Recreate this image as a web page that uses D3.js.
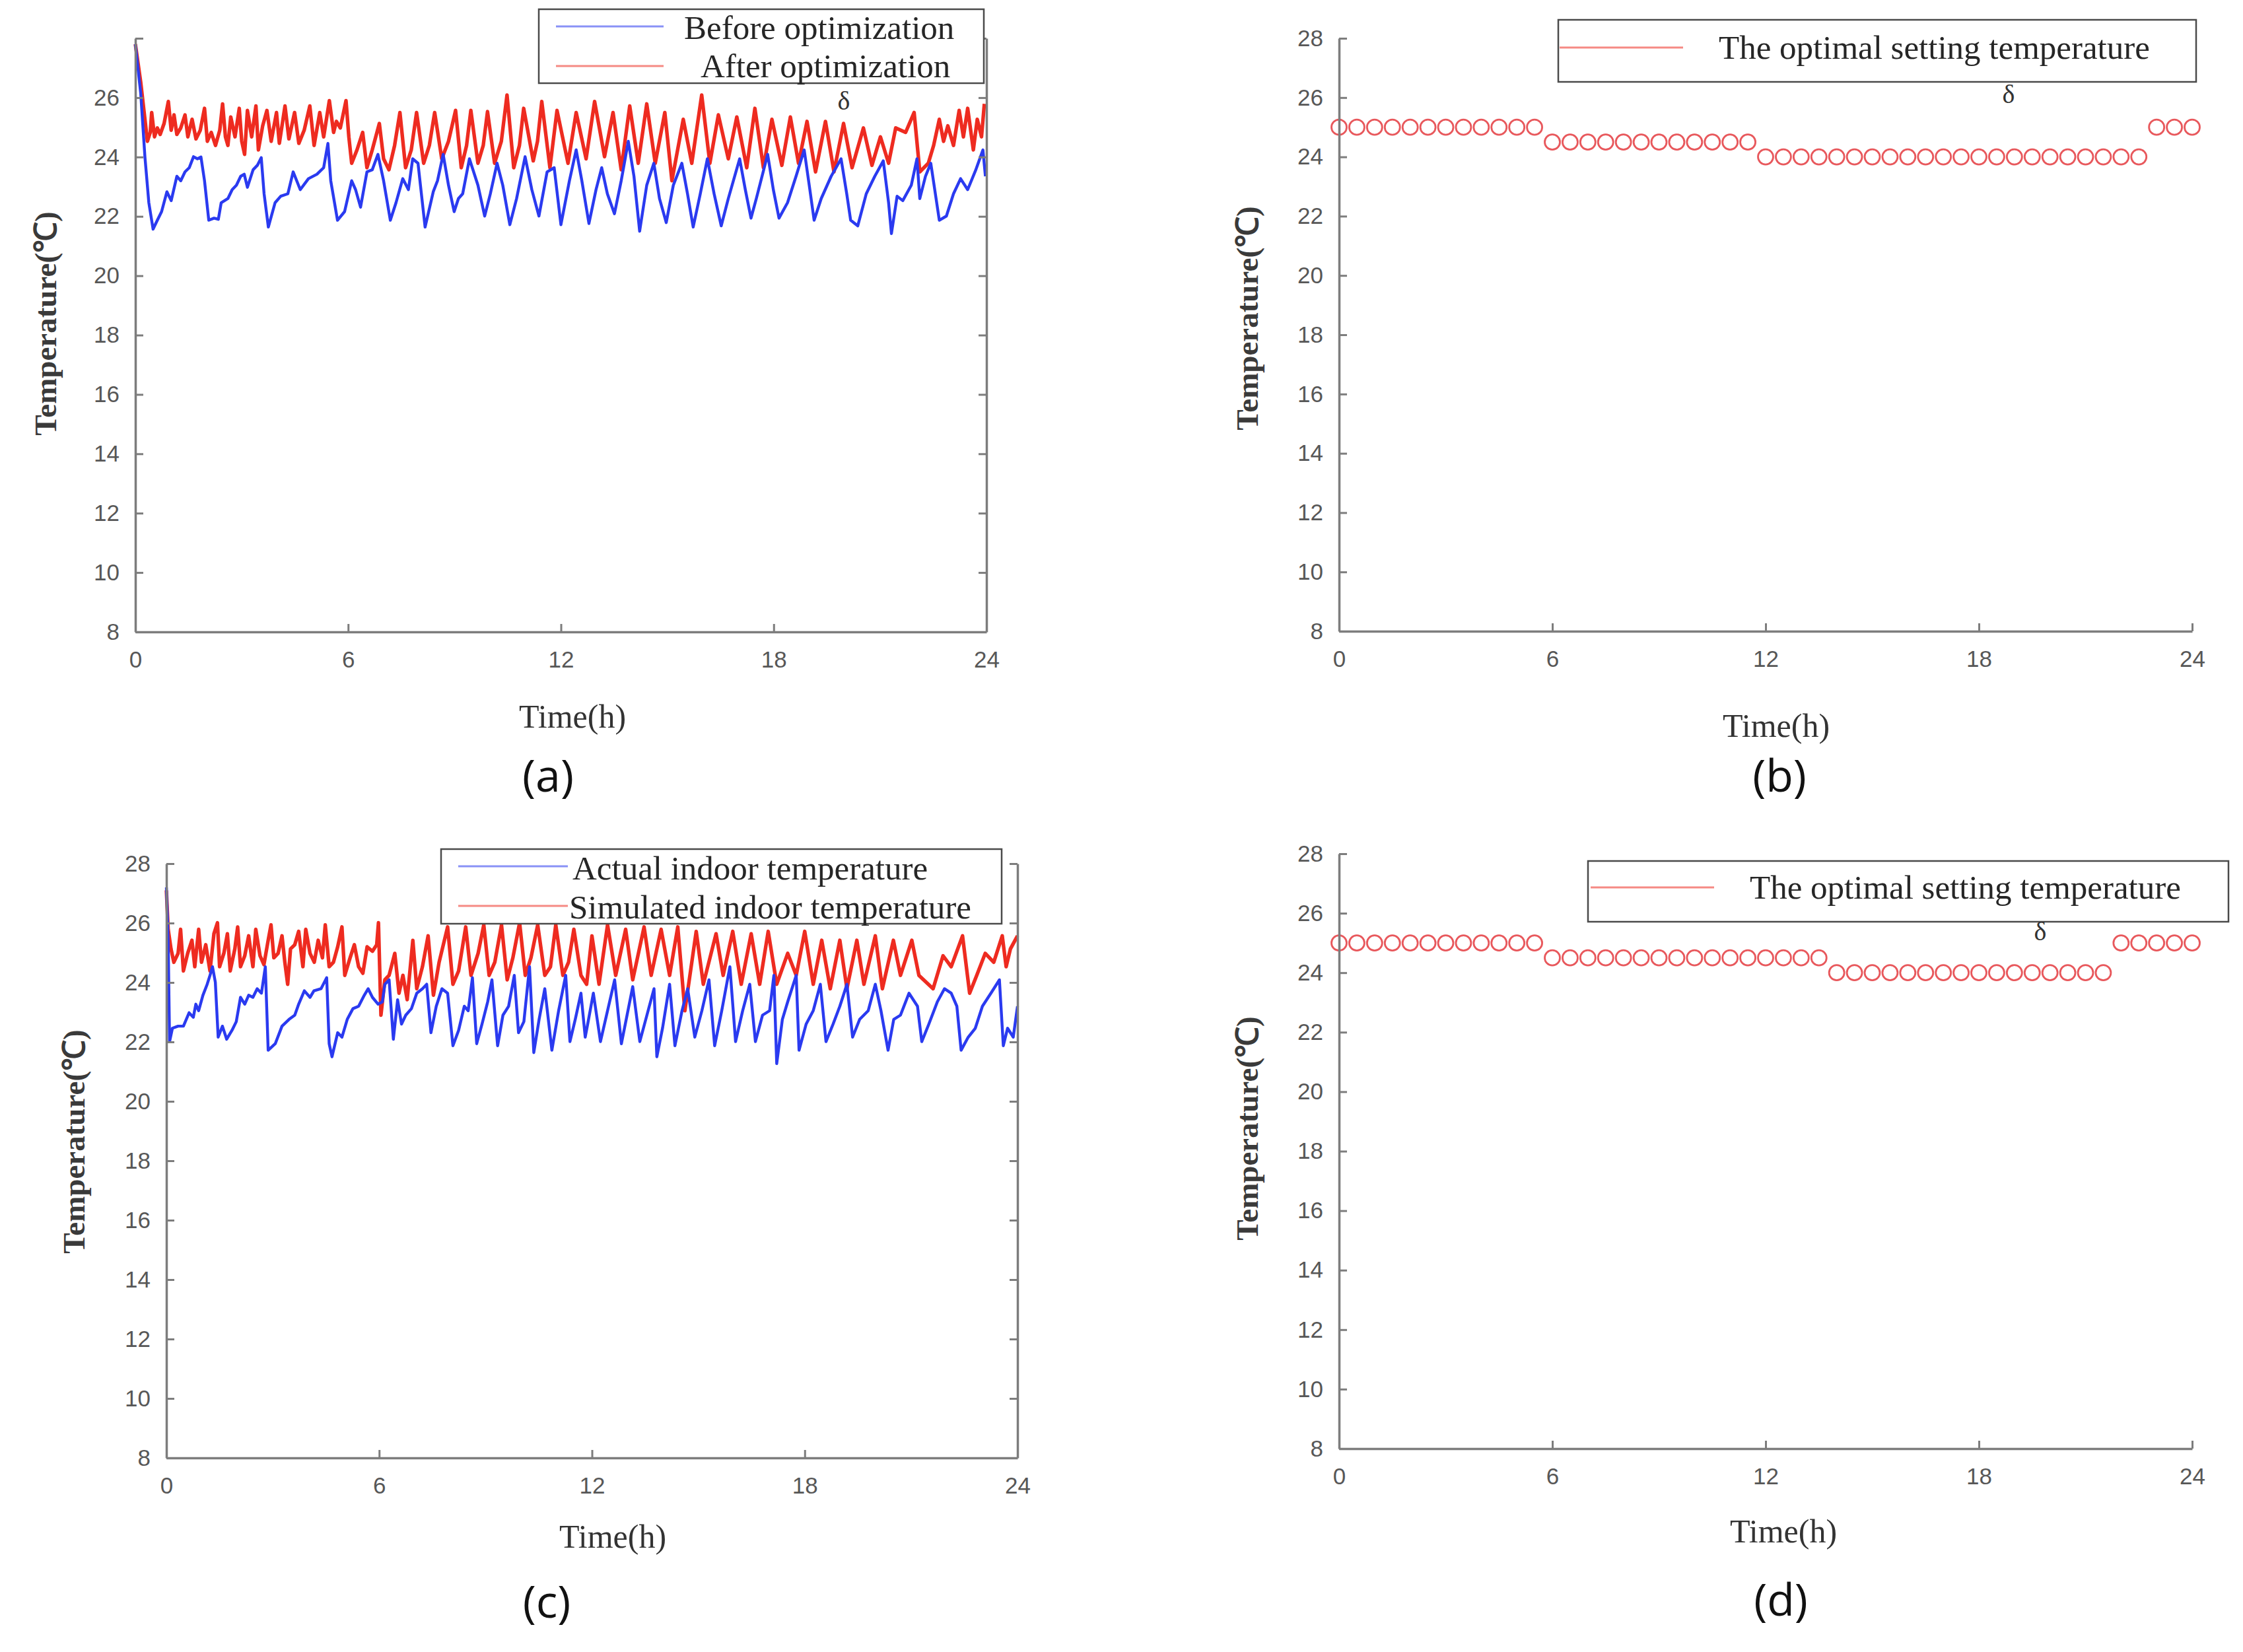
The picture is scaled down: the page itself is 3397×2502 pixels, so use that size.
<!DOCTYPE html>
<html><head><meta charset="utf-8">
<script src="https://cdn.jsdelivr.net/npm/d3@7"></script>
<style>body{margin:0;background:#fff}</style>
</head><body>
<svg id="chart" width="3397" height="2502"></svg>
<script>
// ---------------- DATA ----------------
const xTicks = [0, 6, 12, 18, 24];
const yTicks = [8, 10, 12, 14, 16, 18, 20, 22, 24, 26, 28];

// (a) [time h, temperature C]
const aBefore = [[0,27.8],[0.15,26.16],[0.27,24.0],[0.38,22.46],[0.5,21.57],[0.62,21.87],[0.74,22.16],[0.89,22.83],[1.01,22.53],[1.17,23.35],[1.28,23.2],[1.4,23.5],[1.52,23.64],[1.64,24.01],[1.75,23.94],[1.85,24.0],[1.95,23.2],[2.07,21.87],[2.22,21.94],[2.34,21.9],[2.42,22.46],[2.61,22.6],[2.73,22.9],[2.85,23.05],[2.97,23.35],[3.07,23.42],[3.16,22.98],[3.32,23.57],[3.44,23.72],[3.55,23.98],[3.63,22.76],[3.75,21.64],[3.94,22.46],[4.1,22.68],[4.3,22.76],[4.45,23.5],[4.65,22.9],[4.88,23.27],[5.12,23.42],[5.31,23.64],[5.43,24.46],[5.51,23.2],[5.7,21.87],[5.9,22.16],[6.1,23.2],[6.21,22.9],[6.35,22.31],[6.53,23.5],[6.68,23.57],[6.84,24.09],[7.0,23.2],[7.19,21.87],[7.35,22.46],[7.54,23.27],[7.7,22.9],[7.82,23.94],[7.97,23.79],[8.17,21.64],[8.4,22.83],[8.52,23.2],[8.68,24.09],[8.83,23.05],[8.99,22.16],[9.11,22.6],[9.23,22.76],[9.42,23.94],[9.66,23.05],[9.85,22.01],[10.01,22.76],[10.2,23.79],[10.36,23.05],[10.56,21.72],[10.75,22.6],[10.99,24.01],[11.18,22.9],[11.38,22.01],[11.61,23.5],[11.81,23.64],[12.0,21.72],[12.24,23.2],[12.43,24.24],[12.59,23.2],[12.79,21.76],[12.99,22.9],[13.15,23.64],[13.31,22.76],[13.51,22.09],[13.7,23.2],[13.9,24.53],[14.06,23.35],[14.22,21.5],[14.42,23.05],[14.62,23.79],[14.78,22.6],[14.97,21.79],[15.17,23.05],[15.41,23.79],[15.57,22.76],[15.73,21.64],[15.93,22.76],[16.13,23.94],[16.32,22.76],[16.52,21.68],[16.72,22.6],[17.04,23.94],[17.2,22.9],[17.36,21.94],[17.51,22.6],[17.83,24.09],[17.99,22.9],[18.15,21.94],[18.39,22.46],[18.63,23.35],[18.86,24.24],[19.02,22.9],[19.14,21.87],[19.34,22.6],[19.62,23.35],[19.9,23.94],[20.06,22.76],[20.17,21.87],[20.37,21.68],[20.61,22.76],[20.85,23.35],[21.09,23.87],[21.24,22.46],[21.32,21.42],[21.48,22.68],[21.64,22.53],[21.88,23.05],[22.04,23.94],[22.12,22.6],[22.28,23.35],[22.43,23.79],[22.67,21.87],[22.87,22.01],[23.07,22.76],[23.27,23.27],[23.47,22.9],[23.7,23.57],[23.9,24.24],[23.97,23.35]];

const aAfter = [[0,27.8],[0.15,26.53],[0.27,25.27],[0.34,24.53],[0.42,24.83],[0.46,25.5],[0.54,24.68],[0.62,24.98],[0.7,24.76],[0.81,25.13],[0.93,25.87],[1.01,24.9],[1.09,25.42],[1.17,24.76],[1.28,24.98],[1.4,25.42],[1.48,24.68],[1.6,25.27],[1.71,24.61],[1.83,24.9],[1.95,25.64],[2.03,24.53],[2.14,24.83],[2.26,24.39],[2.38,24.9],[2.46,25.79],[2.54,24.68],[2.61,24.39],[2.69,25.35],[2.81,24.68],[2.93,25.64],[3.0,24.53],[3.08,24.09],[3.16,25.57],[3.28,24.68],[3.4,25.72],[3.47,24.24],[3.59,25.05],[3.71,25.57],[3.83,24.53],[3.98,25.5],[4.06,24.46],[4.22,25.72],[4.33,24.61],[4.49,25.5],[4.61,24.46],[4.76,24.9],[4.92,25.72],[5.04,24.39],[5.2,25.5],[5.31,24.68],[5.47,25.9],[5.59,24.83],[5.67,25.2],[5.78,24.98],[5.94,25.9],[6.02,24.68],[6.1,23.79],[6.25,24.24],[6.41,24.83],[6.53,23.64],[6.68,24.24],[6.88,25.13],[7.0,23.94],[7.15,23.57],[7.31,24.39],[7.46,25.5],[7.62,23.64],[7.78,24.24],[7.93,25.5],[8.13,23.79],[8.29,24.39],[8.44,25.5],[8.64,23.94],[8.83,24.53],[9.03,25.57],[9.19,23.64],[9.34,24.39],[9.46,25.57],[9.66,23.79],[9.81,24.39],[9.93,25.53],[10.13,23.79],[10.32,24.53],[10.48,26.09],[10.67,23.64],[10.83,24.39],[10.95,25.64],[11.22,23.87],[11.34,24.53],[11.46,25.87],[11.69,23.64],[11.89,25.57],[12.2,23.79],[12.43,25.5],[12.71,23.94],[12.95,25.87],[13.23,24.01],[13.47,25.5],[13.7,23.57],[13.94,25.72],[14.18,23.79],[14.42,25.79],[14.66,23.79],[14.93,25.5],[15.13,23.2],[15.45,25.27],[15.69,23.79],[15.97,26.09],[16.2,23.79],[16.44,25.42],[16.72,23.94],[16.96,25.35],[17.24,23.64],[17.47,25.64],[17.71,23.64],[17.95,25.27],[18.23,23.72],[18.47,25.35],[18.7,23.79],[18.94,25.2],[19.18,23.5],[19.46,25.2],[19.7,23.5],[19.97,25.13],[20.21,23.64],[20.53,24.98],[20.77,23.72],[21.01,24.68],[21.24,23.79],[21.44,24.98],[21.72,24.83],[21.96,25.5],[22.12,23.5],[22.36,23.79],[22.51,24.39],[22.67,25.27],[22.79,24.53],[22.91,25.05],[23.07,24.39],[23.23,25.57],[23.35,24.68],[23.47,25.64],[23.63,24.24],[23.74,25.27],[23.86,24.68],[23.94,25.79]];

// (c)
const cActual = [[0,27.2],[0.05,25.42],[0.09,22.01],[0.17,22.46],[0.33,22.53],[0.48,22.53],[0.64,22.98],[0.76,22.83],[0.83,23.27],[0.91,23.05],[1.03,23.57],[1.15,23.94],[1.23,24.24],[1.3,24.53],[1.38,24.01],[1.46,22.16],[1.58,22.53],[1.7,22.09],[1.85,22.39],[1.97,22.68],[2.09,23.5],[2.21,23.27],[2.32,23.57],[2.44,23.5],[2.56,23.79],[2.68,23.64],[2.79,24.53],[2.87,21.72],[3.07,21.94],[3.26,22.53],[3.46,22.76],[3.62,22.9],[3.73,23.27],[3.89,23.72],[4.05,23.5],[4.16,23.72],[4.36,23.79],[4.52,24.16],[4.59,21.94],[4.67,21.5],[4.83,22.31],[4.95,22.16],[5.1,22.76],[5.26,23.12],[5.42,23.2],[5.58,23.57],[5.69,23.79],[5.81,23.5],[5.97,23.27],[6.09,23.35],[6.16,23.94],[6.28,24.09],[6.4,22.09],[6.52,23.42],[6.63,22.6],[6.75,22.9],[6.91,23.12],[7.06,23.64],[7.22,23.79],[7.34,23.94],[7.46,22.31],[7.61,23.2],[7.77,23.79],[7.93,23.64],[8.08,21.87],[8.24,22.39],[8.4,23.2],[8.51,23.05],[8.63,24.16],[8.75,21.94],[8.9,22.6],[9.06,23.35],[9.18,24.09],[9.34,21.87],[9.49,22.9],[9.65,23.2],[9.81,24.24],[9.93,22.31],[10.08,22.68],[10.24,24.53],[10.36,21.64],[10.51,22.76],[10.67,23.79],[10.87,21.72],[11.06,23.05],[11.26,24.24],[11.38,22.01],[11.53,22.76],[11.69,23.64],[11.81,22.16],[11.88,22.6],[12.04,23.64],[12.24,22.01],[12.44,23.05],[12.64,24.09],[12.83,21.94],[12.99,22.9],[13.15,23.86],[13.35,22.01],[13.55,22.9],[13.75,23.79],[13.83,21.5],[13.99,22.46],[14.19,23.94],[14.34,21.87],[14.54,23.05],[14.7,23.79],[14.9,22.16],[15.1,23.05],[15.3,24.09],[15.46,21.87],[15.66,23.05],[15.89,24.53],[16.05,22.01],[16.25,23.05],[16.45,23.94],[16.61,22.01],[16.81,22.9],[17.01,23.05],[17.13,24.24],[17.21,21.27],[17.37,22.76],[17.52,23.35],[17.76,24.24],[17.84,21.72],[18.04,22.6],[18.24,23.05],[18.44,23.94],[18.6,22.01],[18.8,22.6],[18.99,23.2],[19.19,23.94],[19.35,22.16],[19.55,22.76],[19.79,23.05],[19.99,23.94],[20.15,23.05],[20.35,21.72],[20.51,22.76],[20.7,22.9],[20.94,23.64],[21.18,23.2],[21.3,22.01],[21.5,22.6],[21.74,23.35],[21.94,23.79],[22.13,23.64],[22.29,23.2],[22.41,21.72],[22.61,22.16],[22.81,22.46],[23.01,23.2],[23.25,23.64],[23.49,24.09],[23.6,21.87],[23.72,22.46],[23.88,22.16],[24.0,23.2]];

const cSimulated = [[0,27.1],[0.05,25.79],[0.13,25.13],[0.21,24.68],[0.33,24.98],[0.4,25.79],[0.48,24.39],[0.6,24.98],[0.72,25.42],[0.8,24.53],[0.91,25.79],[0.99,24.68],[1.11,25.27],[1.23,24.39],[1.34,25.64],[1.44,26.01],[1.5,24.53],[1.62,24.98],[1.72,25.64],[1.8,24.39],[1.93,25.13],[2.01,25.87],[2.09,24.53],[2.21,24.9],[2.32,25.57],[2.44,24.53],[2.52,25.79],[2.64,24.9],[2.75,24.6],[2.87,25.42],[2.95,25.94],[3.03,24.83],[3.15,24.98],[3.26,25.57],[3.34,24.68],[3.42,23.94],[3.5,25.13],[3.62,25.27],[3.73,25.72],[3.85,24.53],[3.93,25.79],[4.05,24.98],[4.17,24.68],[4.28,25.42],[4.4,24.83],[4.48,25.94],[4.59,24.53],[4.71,24.68],[4.83,25.2],[4.95,25.87],[5.03,24.24],[5.18,24.83],[5.3,25.27],[5.42,24.53],[5.54,24.31],[5.66,25.2],[5.81,25.05],[5.93,25.27],[5.98,26.01],[6.05,22.9],[6.16,24.09],[6.28,24.24],[6.44,24.98],[6.56,23.64],[6.67,24.24],[6.79,23.42],[6.95,25.42],[7.06,23.79],[7.22,24.53],[7.38,25.57],[7.53,23.57],[7.69,24.68],[7.93,25.87],[8.08,23.94],[8.24,24.39],[8.44,25.87],[8.59,24.24],[8.79,24.98],[8.95,25.94],[9.1,24.24],[9.26,24.68],[9.45,25.94],[9.61,24.09],[9.77,24.83],[9.96,26.01],[10.12,24.24],[10.28,24.83],[10.47,25.94],[10.67,24.24],[10.83,24.53],[10.98,25.94],[11.18,24.24],[11.34,24.68],[11.49,25.79],[11.69,24.24],[11.85,23.94],[12.0,25.57],[12.2,23.94],[12.44,25.94],[12.67,24.24],[12.95,25.79],[13.15,24.09],[13.47,25.87],[13.67,24.24],[13.95,25.79],[14.19,24.24],[14.42,25.87],[14.62,23.05],[14.94,25.72],[15.14,23.94],[15.5,25.64],[15.7,24.24],[15.97,25.72],[16.21,23.94],[16.49,25.64],[16.73,23.94],[16.97,25.72],[17.21,23.94],[17.52,24.98],[17.76,24.24],[18.0,25.72],[18.24,23.94],[18.48,25.42],[18.72,23.79],[18.99,25.42],[19.19,23.79],[19.47,25.42],[19.67,23.94],[19.99,25.57],[20.19,23.79],[20.5,25.42],[20.7,24.24],[21.02,25.42],[21.22,24.24],[21.62,23.79],[21.9,24.9],[22.13,24.53],[22.45,25.57],[22.65,23.64],[22.85,24.24],[23.09,24.98],[23.33,24.68],[23.57,25.57],[23.68,24.53],[23.8,25.13],[24.0,25.57]];

// (b) and (d): optimal setting temperature every half hour
const setTimes = [0,0.5,1,1.5,2,2.5,3,3.5,4,4.5,5,5.5,6,6.5,7,7.5,8,8.5,9,9.5,10,10.5,11,11.5,12,12.5,13,13.5,14,14.5,15,15.5,16,16.5,17,17.5,18,18.5,19,19.5,20,20.5,21,21.5,22,22.5,23,23.5,24];
const bSetting = [25,25,25,25,25,25,25,25,25,25,25,25,24.5,24.5,24.5,24.5,24.5,24.5,24.5,24.5,24.5,24.5,24.5,24.5,24,24,24,24,24,24,24,24,24,24,24,24,24,24,24,24,24,24,24,24,24,24,25,25,25];
const dSetting = [25,25,25,25,25,25,25,25,25,25,25,25,24.5,24.5,24.5,24.5,24.5,24.5,24.5,24.5,24.5,24.5,24.5,24.5,24.5,24.5,24.5,24.5,24,24,24,24,24,24,24,24,24,24,24,24,24,24,24,24,25,25,25,25,25];

const legendA = ["Before optimization", "After optimization"];
const legendC = ["Actual indoor temperature", "Simulated indoor temperature"];
const legendSet = "The optimal setting temperature";
const yTitle = "Temperature(\u2103)";
const xTitle = "Time(h)";

// ---------------- DRAWING ----------------
const BLUE = "#2a3af0", RED = "#ee2b20", CIRC = "#e8585c";
const AX = "#7d7d7d";
const svg = d3.select("#chart");
svg.append("rect").attr("width", 3397).attr("height", 2502).attr("fill", "#fff");

function panel(p) {
  const x = d3.scaleLinear().domain([0, 24]).range([p.x0, p.x1]);
  const y = d3.scaleLinear().domain([8, 28]).range([p.yB, p.yT]);
  const g = svg.append("g");
  const line = d3.line().x(d => x(d[0])).y(d => y(d[1]));

  if (p.lines) {
    p.lines.slice().reverse().forEach(s => {
      g.append("path").datum(s.data).attr("d", line)
        .attr("fill", "none").attr("stroke", s.color).attr("stroke-width", s.w)
        .attr("stroke-linejoin", "round");
    });
  }
  if (p.points) {
    g.selectAll("circle.pt").data(p.points.times.map((t, i) => [t, p.points.vals[i]]))
      .enter().append("circle").attr("class", "pt")
      .attr("cx", d => x(d[0])).attr("cy", d => y(d[1])).attr("r", 11.5)
      .attr("fill", "none").attr("stroke", CIRC).attr("stroke-width", 2.8);
  }

  function styleAxis(sel) {
    sel.select(".domain").attr("stroke", AX).attr("stroke-width", 3.5);
    sel.selectAll(".tick line").attr("stroke", AX).attr("stroke-width", 3);
    sel.selectAll(".tick text").attr("fill", "#575757")
      .attr("font-family", "'Liberation Sans', Arial, sans-serif").attr("font-size", 35);
    sel.attr("font-family", null).attr("font-size", null);
  }
  const left = g.append("g").attr("transform", `translate(${p.x0},0)`)
    .call(d3.axisLeft(y).tickValues(yTicks).tickSize(-12).tickSizeOuter(0).tickPadding(24)
      .tickFormat(d => (p.skip28 && d === 28) ? "" : d));
  styleAxis(left);
  const bottom = g.append("g").attr("transform", `translate(0,${p.yB})`)
    .call(d3.axisBottom(x).tickValues(xTicks).tickSize(-12).tickSizeOuter(0).tickPadding(29));
  styleAxis(bottom);
  if (p.right) {
    const right = g.append("g").attr("transform", `translate(${p.x1},0)`)
      .call(d3.axisRight(y).tickValues(yTicks).tickSize(-12).tickSizeOuter(0).tickFormat(""));
    styleAxis(right);
  }

  // legend
  const L = p.legend;
  g.append("rect").attr("x", L.x).attr("y", L.y).attr("width", L.w).attr("height", L.h)
    .attr("fill", "#fff").attr("stroke", "#4a4a4a").attr("stroke-width", 2.5);
  L.items.forEach(it => {
    g.append("line").attr("x1", it.lx1).attr("x2", it.lx2).attr("y1", it.ly).attr("y2", it.ly)
      .attr("stroke", it.color).attr("stroke-width", 3).attr("opacity", 0.55);
    g.append("text").attr("x", it.tx).attr("y", it.ty).attr("dominant-baseline", "central")
      .attr("font-family", "'Liberation Serif', 'Times New Roman', serif").attr("font-size", 51)
      .attr("fill", "#262626").text(it.text);
  });
  if (p.delta) {
    g.append("text").attr("x", p.delta[0]).attr("y", p.delta[1]).attr("text-anchor", "middle")
      .attr("dominant-baseline", "central").attr("font-family", "'Liberation Serif', serif")
      .attr("font-size", 40).attr("fill", "#333").text("\u03b4");
  }

  // titles
  g.append("text").attr("transform", `translate(${p.yt[0]},${p.yt[1]}) rotate(-90)`)
    .attr("text-anchor", "middle").attr("dominant-baseline", "central")
    .attr("font-family", "'Liberation Serif', 'Times New Roman', serif").attr("font-weight", "bold")
    .attr("font-size", 47).attr("fill", "#3a3a3a").text(yTitle);
  g.append("text").attr("x", p.xt[0]).attr("y", p.xt[1]).attr("text-anchor", "middle")
    .attr("dominant-baseline", "central")
    .attr("font-family", "'Liberation Serif', 'Times New Roman', serif")
    .attr("font-size", 50).attr("fill", "#333").text(xTitle);
  g.append("text").attr("x", p.lab[0]).attr("y", p.lab[1]).attr("text-anchor", "middle")
    .attr("dominant-baseline", "central").attr("font-family", "'Open Sans', sans-serif")
    .attr("font-size", 68).attr("fill", "#111").text(p.label);
}

panel({
  x0: 205, x1: 1494, yT: 58, yB: 957, right: true, skip28: true,
  lines: [{data: aBefore, color: BLUE, w: 4.4}, {data: aAfter, color: RED, w: 5.4}],
  legend: {x: 816, y: 14, w: 674, h: 112, items: [
    {lx1: 842, lx2: 1005, ly: 40, color: BLUE, tx: 1036, ty: 42, text: legendA[0]},
    {lx1: 842, lx2: 1005, ly: 100, color: RED, tx: 1061, ty: 100, text: legendA[1]}]},
  delta: [1278, 152], yt: [69, 490], xt: [867, 1085], lab: [830, 1172], label: "(a)"
});
panel({
  x0: 2028, x1: 3320, yT: 58, yB: 956, right: false,
  points: {times: setTimes, vals: bSetting},
  legend: {x: 2360, y: 30, w: 966, h: 94, items: [
    {lx1: 2362, lx2: 2549, ly: 72, color: RED, tx: 2603, ty: 72, text: legendSet}]},
  delta: [3042, 142], yt: [1889, 482], xt: [2690, 1099], lab: [2695, 1172], label: "(b)"
});
panel({
  x0: 252, x1: 1541, yT: 1308, yB: 2208, right: true,
  lines: [{data: cActual, color: BLUE, w: 4.4}, {data: cSimulated, color: RED, w: 5.4}],
  legend: {x: 668, y: 1286, w: 849, h: 113, items: [
    {lx1: 694, lx2: 860, ly: 1312, color: BLUE, tx: 867, ty: 1315, text: legendC[0]},
    {lx1: 694, lx2: 860, ly: 1372, color: RED, tx: 862, ty: 1374, text: legendC[1]}]},
  yt: [112, 1729], xt: [928, 2327], lab: [828, 2423], label: "(c)"
});
panel({
  x0: 2028, x1: 3320, yT: 1293, yB: 2194, right: false,
  points: {times: setTimes, vals: dSetting},
  legend: {x: 2405, y: 1304, w: 970, h: 92, items: [
    {lx1: 2409, lx2: 2596, ly: 1344, color: RED, tx: 2650, ty: 1344, text: legendSet}]},
  delta: [3090, 1410], yt: [1889, 1709], xt: [2701, 2319], lab: [2697, 2420], label: "(d)"
});
</script>
</body></html>
